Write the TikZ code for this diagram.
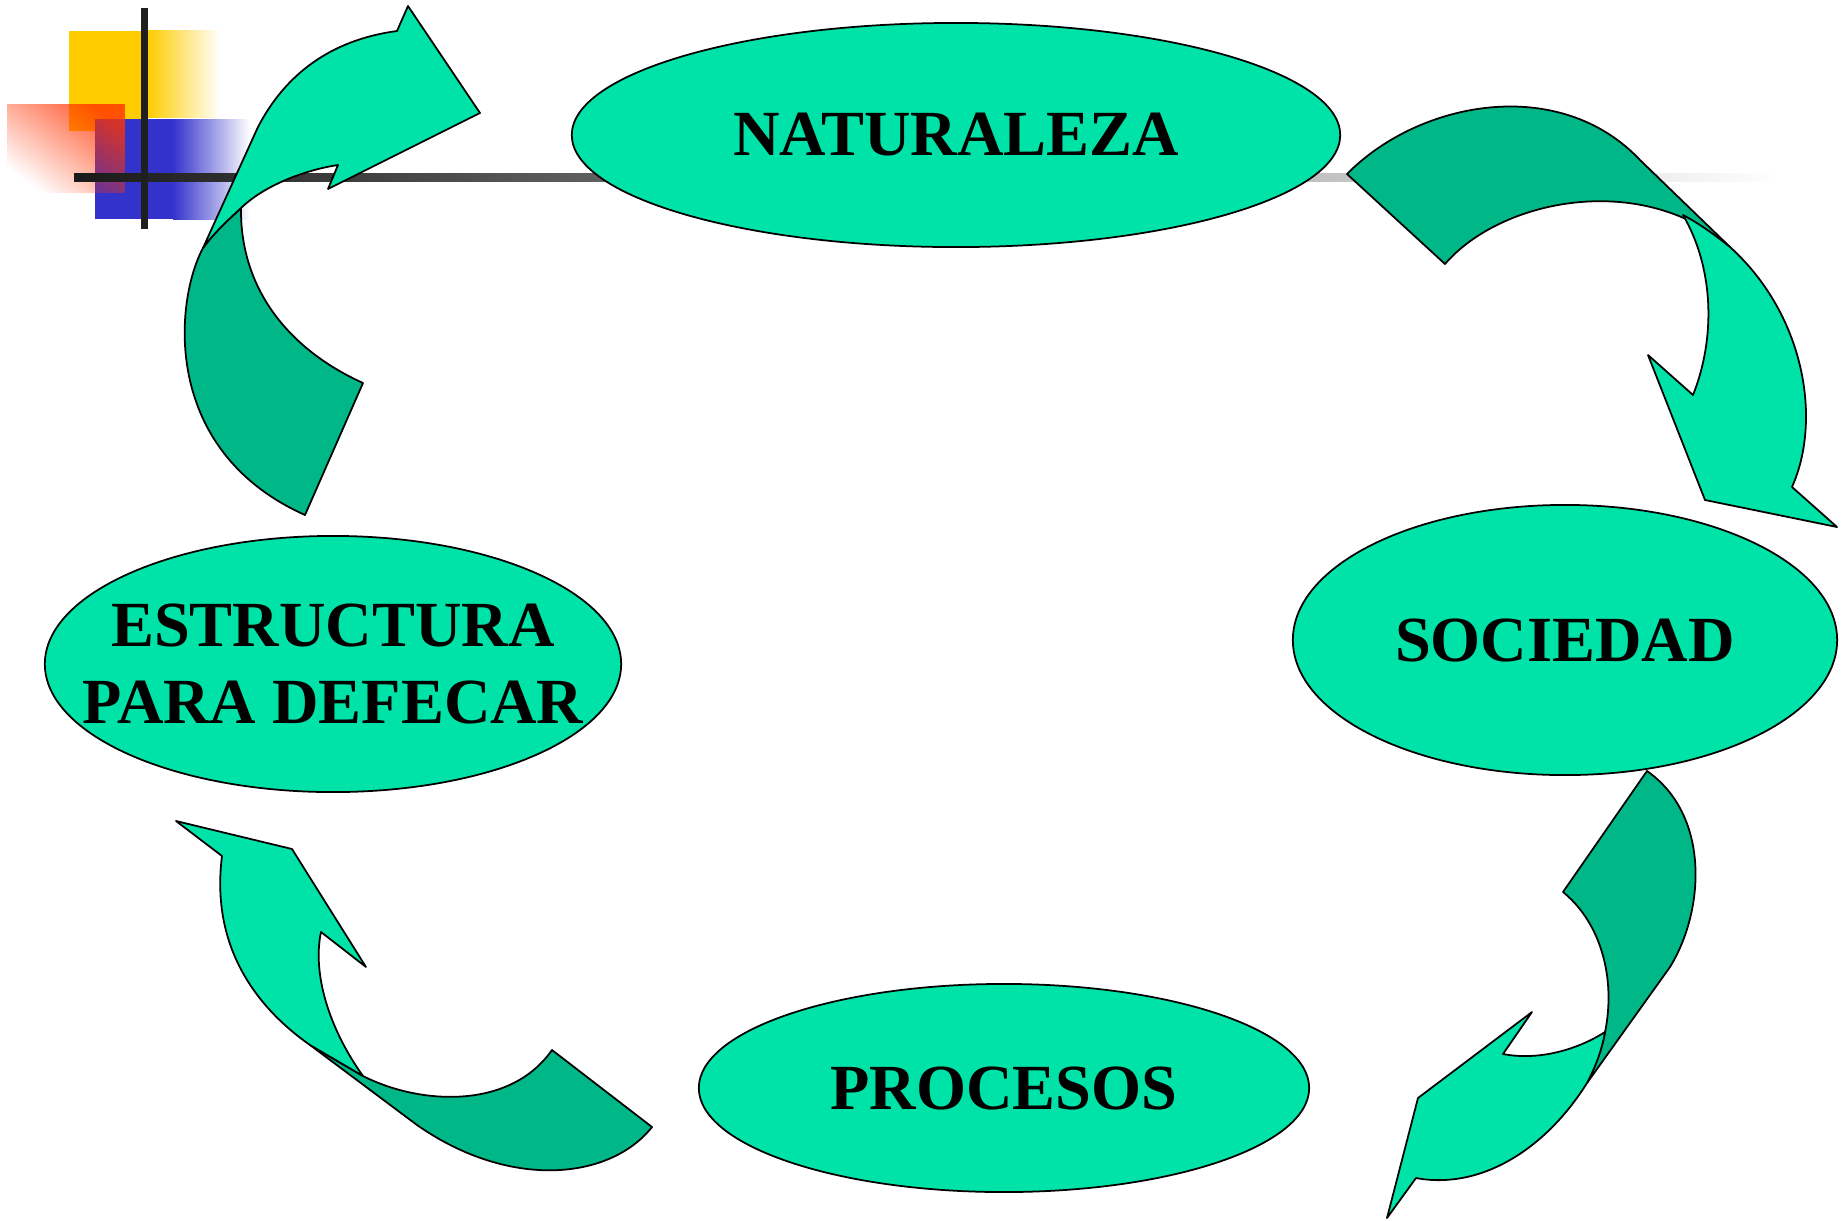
\documentclass[tikz,border=0pt]{standalone}
\usepackage{fontspec}
\setmainfont{Liberation Serif}
\usetikzlibrary{shapes.geometric,fadings}

\definecolor{lightgreen}{HTML}{00E3A8}
\definecolor{darkgreen}{HTML}{00B887}
\definecolor{logoyellow}{HTML}{FFCC00}
\definecolor{logoblue}{HTML}{3333CC}
\definecolor{logored}{HTML}{FF3300}

\tikzfading[name=fadelogo, left color=transparent!100, right color=transparent!0]

\begin{document}
\begin{tikzpicture}[x=0.01cm, y=-0.01cm,
    bubble/.style={ellipse, draw, line width=0.5pt, fill=lightgreen, inner sep=0pt},
    word/.style={inner sep=0pt, font=\fontsize{18.3}{21.8}\selectfont\bfseries, align=center},
    front/.style={fill=lightgreen, draw, line width=0.5pt, line join=round},
    back/.style={fill=darkgreen, draw, line width=0.5pt, line join=round}]
\useasboundingbox (0,0) rectangle (1847,1220);

% Logo
\fill[logoyellow] (69,31) rectangle (148,131);
\fill[logoyellow, path fading=fadelogo, fading angle=180] (148,30) rectangle (220,118);
\fill[logoblue] (95,119) rectangle (173,219);
\fill[logoblue, path fading=fadelogo, fading angle=180] (173,119) rectangle (250,220);
\fill[logored, opacity=0.8, path fading=fadelogo, fading angle=45] (7,104) rectangle (125,193);
\shade[left color=black!90, right color=white] (74,173) rectangle (1780,181); % horizontal line
\fill[black!88] (141,8) rectangle (148,229); % vertical line

% Arrows
% from estructura to naturaleza
\draw[back] (203,248) .. controls (175,300) and (160,450) .. (305,515) -- (363,383)
  .. controls (290,350) and (240,290) .. (241,208)
  .. controls (228,220) and (213,234) .. (203,248) -- cycle;
\draw[front] (203,248) -- (258,127) .. controls (285,75) and (330,40) .. (397,31)
  -- (408,6) -- (480,113) -- (328,189) -- (338,165)
  .. controls (305,170) and (265,185) .. (241,208)
  .. controls (228,220) and (213,234) .. (203,248) -- cycle;

% from naturaleza to sociedad
\draw[back] (1347,174) .. controls (1420,100) and (1560,75) .. (1640,160) -- (1730,247)
  .. controls (1640,170) and (1500,200) .. (1445,264) -- cycle;
\draw[front] (1683,215) .. controls (1715,270) and (1715,340) .. (1693,395)
  -- (1648,355) -- (1705,500) -- (1837,527) -- (1792,487)
  .. controls (1822,420) and (1805,315) .. (1730,247)
  .. controls (1715,235) and (1700,224) .. (1683,215) -- cycle;

% from sociedad to procesos
\draw[back] (1647,771) -- (1563,892) .. controls (1610,930) and (1625,1010) .. (1587,1083)
  -- (1670,967) .. controls (1705,910) and (1710,815) .. (1647,771) -- cycle;
\draw[front] (1605,1032) .. controls (1585,1045) and (1545,1062) .. (1503,1054)
  -- (1532,1012) -- (1418,1098) -- (1387,1218) -- (1416,1178)
  .. controls (1480,1190) and (1545,1150) .. (1587,1083)
  .. controls (1595,1068) and (1602,1050) .. (1605,1032) -- cycle;

% from procesos to estructura
\draw[back] (363,1076) .. controls (420,1105) and (510,1110) .. (552,1050) -- (652,1127)
  .. controls (610,1180) and (510,1190) .. (417,1125) -- (310,1045) -- cycle;
\draw[front] (363,1076) .. controls (330,1030) and (312,975) .. (321,932)
  -- (366,967) -- (292,849) -- (176,821) -- (222,856)
  .. controls (210,950) and (260,1010) .. (310,1045) -- cycle;

% Ellipses
\node[bubble, minimum width=7.68cm, minimum height=2.24cm] (naturaleza) at (956,135) {};
\node[bubble, minimum width=5.44cm, minimum height=2.7cm] (sociedad) at (1565,640) {};
\node[bubble, minimum width=6.1cm, minimum height=2.08cm] (procesos) at (1004,1088) {};
\node[bubble, minimum width=5.76cm, minimum height=2.56cm] (estructura) at (333,664) {};

% Words
\node[word] (naturaleza-txt) at (naturaleza) {NATURALEZA};
\node[word] (sociedad-txt) at (sociedad) {SOCIEDAD};
\node[word] (procesos-txt) at (procesos) {PROCESOS};
\node[word] (estructura-txt) at (estructura) {ESTRUCTURA\\PARA DEFECAR};
\end{tikzpicture}
\end{document}
